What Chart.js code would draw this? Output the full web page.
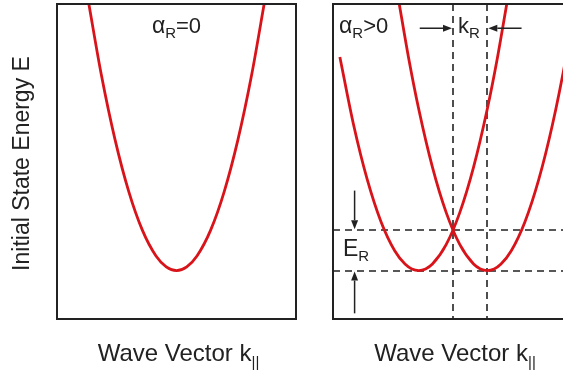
<!DOCTYPE html>
<html>
<head>
<meta charset="utf-8">
<script src="https://cdn.jsdelivr.net/npm/chart.js@4.4.0/dist/chart.umd.min.js"></script>
<style>
html,body{margin:0;padding:0;background:#fff;overflow:hidden;width:563px;height:374px;}
#wrapL{position:absolute;left:0;top:0;width:310px;height:374px;}
#wrapR{position:absolute;left:323px;top:0;width:260px;height:374px;}
</style>
</head>
<body>
<div id="wrapL"><canvas id="bandL"></canvas></div>
<div id="wrapR"><canvas id="bandR"></canvas></div>
<script>
// axis ranges (k in units of kR, E in units of ER)
const kRange = [-3.5, 3.5];
const eRange = [-1.2, 6.6];
const kR = 1;
const ER = 1;

// free-electron band, no spin-orbit
const kFree = [-2.6, -2.2, -1.8, -1.4, -1.0, -0.6, -0.3, 0, 0.3, 0.6, 1.0, 1.4, 1.8, 2.2, 2.6];
const eFree = [6.76, 4.84, 3.24, 1.96, 1.0, 0.36, 0.09, 0, 0.09, 0.36, 1.0, 1.96, 3.24, 4.84, 6.76];

// Rashba split bands
const kUp = [-3.3, -2.9, -2.5, -2.1, -1.7, -1.4, -1.2, -1.0, -0.8, -0.6, -0.2, 0.2, 0.6, 1.0, 1.3, 1.6];
const eUp = [5.29, 3.61, 2.25, 1.21, 0.49, 0.16, 0.04, 0, 0.04, 0.16, 0.64, 1.44, 2.56, 4.0, 5.29, 6.76];
const kDown = [-1.6, -1.3, -1.0, -0.6, -0.2, 0.2, 0.6, 0.8, 1.0, 1.2, 1.4, 1.7, 2.1, 2.5, 2.9, 3.3, 3.6];
const eDown = [6.76, 5.29, 4.0, 2.56, 1.44, 0.64, 0.16, 0.04, 0, 0.04, 0.16, 0.49, 1.21, 2.25, 3.61, 5.29, 6.76];

const FONT = '"Liberation Sans", Arial, sans-serif';
const INK = '#222';
const RED = '#d8141a';

function toPoints(ks, es){
  return ks.map((k,i)=>({x:k, y:es[i]}));
}

// text with subscripts: parts = [[text, size, dy], ...]
function drawParts(ctx, parts, x, y, align){
  let w = 0;
  parts.forEach(p=>{ ctx.font = p[1]+'px '+FONT; w += ctx.measureText(p[0]).width; });
  let cx = align==='center' ? x - w/2 : x;
  ctx.textAlign = 'left';
  ctx.textBaseline = 'alphabetic';
  parts.forEach(p=>{
    ctx.font = p[1]+'px '+FONT;
    ctx.fillText(p[0], cx, y + (p[2]||0));
    cx += ctx.measureText(p[0]).width;
  });
}

function arrow(ctx, x1, y1, x2, y2){
  const ang = Math.atan2(y2-y1, x2-x1);
  const len = 9, hw = 3.5;
  ctx.beginPath();
  ctx.moveTo(x1, y1);
  ctx.lineTo(x2 - len*Math.cos(ang), y2 - len*Math.sin(ang));
  ctx.lineWidth = 1.5;
  ctx.stroke();
  ctx.beginPath();
  ctx.moveTo(x2, y2);
  ctx.lineTo(x2 - len*Math.cos(ang) + hw*Math.sin(ang), y2 - len*Math.sin(ang) - hw*Math.cos(ang));
  ctx.lineTo(x2 - len*Math.cos(ang) - hw*Math.sin(ang), y2 - len*Math.sin(ang) + hw*Math.cos(ang));
  ctx.closePath();
  ctx.fill();
}

const guides = {
  id: 'guides',
  beforeDatasetsDraw(chart, args, opts){
    if(!opts.rashba) return;
    const {ctx, chartArea:a, scales:{x, y}} = chart;
    ctx.save();
    ctx.strokeStyle = INK;
    ctx.lineWidth = 1.6;
    ctx.setLineDash([7, 5]);
    [0, ER].forEach(e=>{
      const py = Math.round(y.getPixelForValue(e));
      ctx.beginPath(); ctx.moveTo(a.left, py); ctx.lineTo(a.right, py); ctx.stroke();
    });
    [0, kR].forEach(k=>{
      const px = Math.round(x.getPixelForValue(k));
      ctx.beginPath(); ctx.moveTo(px, a.top); ctx.lineTo(px, a.bottom); ctx.stroke();
    });
    ctx.restore();
  },
  afterDraw(chart, args, opts){
    const {ctx, chartArea:a, scales:{x, y}} = chart;
    ctx.save();
    ctx.strokeStyle = INK;
    ctx.fillStyle = INK;
    ctx.lineWidth = 2;
    ctx.strokeRect(a.left, a.top, a.right - a.left, a.bottom - a.top);

    const midX = (a.left + a.right)/2;
    drawParts(ctx, [['Wave Vector k', 24], ['||', 15, 6]], midX + 2, a.bottom + 42, 'center');

    if(opts.yTitle){
      ctx.save();
      ctx.translate(23, (a.top + a.bottom)/2 + 2);
      ctx.rotate(-Math.PI/2);
      ctx.font = '23px '+FONT;
      ctx.textAlign = 'center';
      ctx.textBaseline = 'middle';
      ctx.fillText(opts.yTitle, 0, 0);
      ctx.restore();
    }

    if(!opts.rashba){
      drawParts(ctx, [['α', 23], ['R', 15, 5], ['=0', 22]], midX, a.top + 29, 'center');
    } else {
      drawParts(ctx, [['α', 23], ['R', 15, 5], ['>0', 22]], a.left + 6, a.top + 29, 'left');
      const x0 = x.getPixelForValue(0), x1 = x.getPixelForValue(kR);
      const ya = y.getPixelForValue(6.0);
      arrow(ctx, x.getPixelForValue(-0.97), ya, x0 - 1, ya);
      arrow(ctx, x.getPixelForValue(2.0), ya, x1 + 1, ya);
      drawParts(ctx, [['k', 22], ['R', 15, 5]], x0 + 5, a.top + 29, 'left');

      const xe = x.getPixelForValue(-2.87);
      arrow(ctx, xe, y.getPixelForValue(1.98), xe, y.getPixelForValue(ER) - 1);
      arrow(ctx, xe, y.getPixelForValue(-1.06), xe, y.getPixelForValue(0) + 1);
      drawParts(ctx, [['E', 23], ['R', 15, 5]], a.left + 10, y.getPixelForValue(0.35), 'left');
    }
    ctx.restore();
  }
};

function bandDataset(ks, es){
  return {
    data: toPoints(ks, es),
    showLine: true,
    borderColor: RED,
    borderWidth: 2.8,
    pointRadius: 0,
    cubicInterpolationMode: 'monotone',
    fill: false
  };
}

function makeChart(id, datasets, pad, decor){
  return new Chart(document.getElementById(id), {
    type: 'scatter',
    data: {datasets},
    options: {
      responsive: true,
      maintainAspectRatio: false,
      animation: false,
      layout: {padding: pad},
      scales: {
        x: {type:'linear', min:kRange[0], max:kRange[1], display:false},
        y: {type:'linear', min:eRange[0], max:eRange[1], display:false}
      },
      plugins: {legend:{display:false}, tooltip:{enabled:false}, guides: decor}
    },
    plugins: [guides]
  });
}

makeChart('bandL', [bandDataset(kFree, eFree)],
  {left:57, top:4, right:14, bottom:55},
  {rashba:false, yTitle:'Initial State Energy E'});

makeChart('bandR', [bandDataset(kUp, eUp), bandDataset(kDown, eDown)],
  {left:10, top:4, right:10, bottom:55},
  {rashba:true});
</script>
</body>
</html>
